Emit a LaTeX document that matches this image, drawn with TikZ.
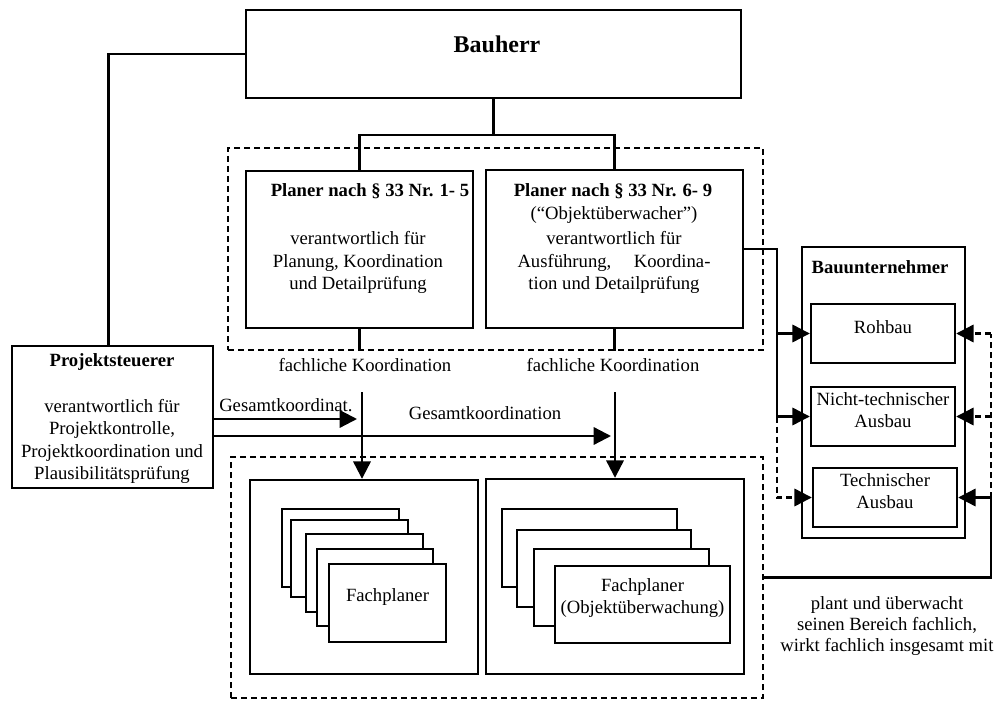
\documentclass[tikz,border=0pt]{standalone}
\usepackage{fontspec}
\setmainfont{Liberation Serif}
\usetikzlibrary{arrows.meta,fit,calc}
\begin{document}
\begin{tikzpicture}[x=0.75pt,y=-0.75pt,
  box/.style={draw, line width=1.8pt, inner sep=0pt, fill=white},
  grpbox/.style={draw, line width=1.6pt, dash pattern=on 4.5pt off 3pt, inner sep=0pt},
  wire/.style={line width=1.7pt},
  dashline/.style={dash pattern=on 4.5pt off 3pt},
  arrowed/.style={-{Triangle[length=13pt,width=13pt]}},
  txt/.style={font=\fontsize{14}{16.9}\selectfont, align=center, inner sep=0pt},
  headtxt/.style={txt, font=\fontsize{14}{16.9}\selectfont\bfseries},
]
\useasboundingbox (0,0) rectangle (995,702);

% dashed groupings
\node[grpbox, fit={(228,148) (763,350)}] (planers) {};
\node[grpbox, fit={(231,457) (763,698)}] (fachgroup) {};

% client
\node[box, fit={(246,10) (741,98)}] (bauherr) {};
\node[txt, font=\fontsize{18}{20}\selectfont\bfseries] (bauherrtxt) at (497,44) {Bauherr};

% project controller
\node[box, fit={(12,346) (213,488)}] (ps) {};
\node[headtxt] (pstitle) at (112,362) {Projektsteuerer};
\node[txt] (psbody) at (112,441.5) {verantwortlich für\\Projektkontrolle,\\Projektkoordination und\\Plausibilitätsprüfung};

% planners
\node[box, fit={(246,171) (473,328)}] (p1) {};
\node[headtxt] (p1title) at (370,191) {Planer nach § 33 Nr. 1- 5};
\node[txt] (p1body) at (358,262.5) {verantwortlich für\\Planung, Koordination\\und Detailprüfung};
\node[box, fit={(486,170) (743,328)}] (p2) {};
\node[headtxt] (p2title) at (613,191) {Planer nach § 33 Nr. 6- 9};
\node[txt] (p2body) at (614,250) {(“Objektüberwacher”)\\[2pt]verantwortlich für\\\makebox[144.75pt]{Ausführung,\hfill Koordina-}\\tion und Detailprüfung};

% specialist planners
\node[box, fit={(250,480) (478,674)}] (fp1) {};
\node[box, fit={(282,509) (399,587)}] (s1a) {};
\node[box, fit={(291,520) (408,597)}] (s1b) {};
\node[box, fit={(306,534) (423,612)}] (s1c) {};
\node[box, fit={(317,549) (433,626)}] (s1d) {};
\node[box, txt, fit={(329,564) (446,642)}] (s1e) {Fachplaner};

\node[box, fit={(486,479) (744,674)}] (fp2) {};
\node[box, fit={(502,509) (677,587)}] (s2a) {};
\node[box, fit={(517,530) (691,607)}] (s2b) {};
\node[box, fit={(534,549) (709,626)}] (s2c) {};
\node[box, txt, fit={(555,566) (730,643)}] (s2d) {Fachplaner\\(Objektüberwachung)};

% contractor
\node[box, fit={(802,247) (965,538)}] (bau) {};
\node[headtxt] (bautitle) at (880,267) {Bauunternehmer};
\node[box, txt, fit={(811,304) (955,363)}] (roh) {Rohbau};
\node[box, txt, fit={(811,387) (955,446)}] (nicht) {Nicht-technischer\\Ausbau};
\node[box, txt, fit={(813,468) (957,527)}] (tech) {Technischer\\Ausbau};

% labels
\node[txt] (fk1) at (365,365) {fachliche Koordination};
\node[txt] (fk2) at (613,365) {fachliche Koordination};
\node[txt, anchor=west] (gk1) at (219,405) {Gesamtkoordinat.};
\node[txt] (gk2) at (485,413) {Gesamtkoordination};
\node[txt] (note) at (887,626) {plant und überwacht\\[-1.1pt]seinen Bereich fachlich,\\[-1.1pt]wirkt fachlich insgesamt mit};

% reporting lines from the client
\coordinate (split) at (493.5,135);
\draw[wire] (bauherr.south) -- (split);
\draw[wire] (p1.north) |- (split) -| (p2.north);
\draw[wire] (bauherr.west) -| ($(ps.north)+(-4,0)$);

% coordination of the specialist planners
\draw[wire] (p1.south) -- (p1.south |- planers.south);
\draw[wire] (p2.south) -- (p2.south |- planers.south);
\coordinate (fa1) at (362,392);
\coordinate (fa2) at (615,392);
\draw[wire, arrowed] (fa1) -- (fa1 |- fp1.north);
\draw[wire, arrowed] (fa2) -- (fa2 |- fp2.north);
\draw[wire, arrowed] ($(ps.east)+(0,2)$) -- ($(fa1 |- ps.east)+(-5,2)$);
\draw[wire, arrowed] ($(ps.east)+(0,19)$) -- ($(fa2 |- ps.east)+(-4,19)$);

% site supervision to the contractor
\coordinate (bus) at (777,0);
\draw[wire] (p2.east) -| (bus |- nicht.west);
\draw[wire, arrowed] (bus |- roh.west) -- (roh.west);
\draw[wire, arrowed] (bus |- nicht.west) -- (nicht.west);
\draw[wire, dashline, arrowed] (bus |- nicht.west) |- (tech.west);

% specialist planners to the contractor
\coordinate (rbus) at (991,0);
\draw[wire] (fachgroup.east) -| (rbus |- tech.east);
\draw[wire, arrowed] (rbus |- tech.east) -- (tech.east);
\draw[wire, dashline] (rbus |- tech.east) -- (rbus |- roh.east);
\draw[wire, dashline, arrowed] (rbus |- nicht.east) -- (nicht.east);
\draw[wire, dashline, arrowed] (rbus |- roh.east) -- (roh.east);
\end{tikzpicture}
\end{document}
